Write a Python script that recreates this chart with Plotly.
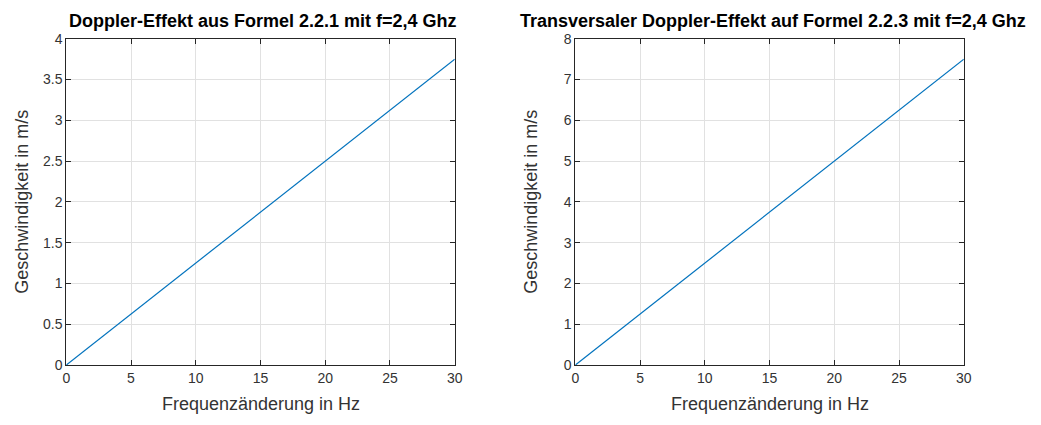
import plotly.graph_objects as go

freq = [0, 5, 10, 15, 20, 25, 30]
v_doppler = [0, 0.625, 1.25, 1.875, 2.5, 3.125, 3.75]
v_transversal = [0, 1.25, 2.5, 3.75, 5.0, 6.25, 7.5]
titles = ["Doppler-Effekt aus Formel 2.2.1 mit f=2,4 Ghz",
          "Transversaler Doppler-Effekt auf Formel 2.2.3 mit f=2,4 Ghz"]
xlabel = "Frequenzänderung in Hz"
ylabel = "Geschwindigkeit in m/s"

W, H = 1041, 425
FONT = "Liberation Sans, Arial, sans-serif"
TXT = "#262626"
LINE = "#0072BD"

fig = go.Figure()
fig.add_trace(go.Scatter(x=freq, y=v_doppler, mode="lines", line=dict(color=LINE, width=1.2),
                         xaxis="x", yaxis="y", showlegend=False))
fig.add_trace(go.Scatter(x=freq, y=v_transversal, mode="lines", line=dict(color=LINE, width=1.2),
                         xaxis="x2", yaxis="y2", showlegend=False))

def px_x(p):
    return p / W

def px_y(p):
    return 1 - p / H

top, bottom = 32, 371
doms = [(63, 456), (578, 971)]

ax_common = dict(showline=True, linecolor=TXT, linewidth=1, mirror="ticks",
                 ticks="inside", ticklen=5, tickcolor=TXT, showgrid=True,
                 gridcolor="#e1e1e1", gridwidth=1, zeroline=False,
                 tickfont=dict(family=FONT, size=14, color="#333333"))

fig.update_layout(
    width=W, height=H, margin=dict(l=0, r=0, t=0, b=0),
    paper_bgcolor="white", plot_bgcolor="white",
    xaxis=dict(domain=[px_x(doms[0][0]), px_x(doms[0][1])], range=[0, 30], dtick=5,
               anchor="y", **ax_common),
    yaxis=dict(domain=[px_y(bottom), px_y(top)], range=[0, 4], dtick=0.5,
               anchor="x", **ax_common),
    xaxis2=dict(domain=[px_x(doms[1][0]), px_x(doms[1][1])], range=[0, 30], dtick=5,
                anchor="y2", **ax_common),
    yaxis2=dict(domain=[px_y(bottom), px_y(top)], range=[0, 8], dtick=1,
                anchor="x2", **ax_common),
)

ann = []
for i, (x0, x1) in enumerate(doms):
    cx = (x0 + x1) / 2
    ann.append(dict(text="<b>" + titles[i] + "</b>", x=px_x(cx + 3), y=px_y(14), xref="paper", yref="paper",
                    showarrow=False, xanchor="center", yanchor="middle",
                    font=dict(family=FONT, size=18, color="black")))
    ann.append(dict(text=xlabel, x=px_x(cx), y=px_y(411), xref="paper", yref="paper",
                    showarrow=False, xanchor="center", yanchor="middle",
                    font=dict(family=FONT, size=18, color="#333333")))
    ann.append(dict(text=ylabel, x=px_x(x0 - 45), y=px_y((top + bottom) / 2), xref="paper", yref="paper",
                    showarrow=False, xanchor="center", yanchor="middle", textangle=-90,
                    font=dict(family=FONT, size=18, color="#333333")))
fig.update_layout(annotations=ann)

fig.write_html("out.html")
